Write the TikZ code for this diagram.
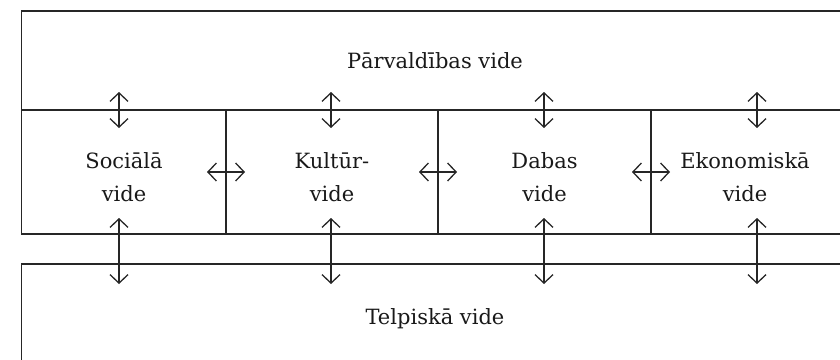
\documentclass[tikz,border=0pt]{standalone}
\usepackage{fontspec}
\setmainfont{DejaVu Serif}
\usetikzlibrary{arrows.meta}
\begin{document}
\begin{tikzpicture}[x=1pt,y=-1pt,
  frame/.style={draw=black!85,line width=1.3pt},
  lbl/.style={align=center,font=\fontsize{21}{33}\selectfont,text=black!90,inner sep=0pt},
  dbl/.style={draw=black!85,line width=1.3pt,{Straight Barb[length=8.5pt,width=18pt]}-{Straight Barb[length=8.5pt,width=18pt]}}]
\useasboundingbox (0,0) rectangle (840,359);
\clip (0,0) rectangle (840,359);
% boxes
\draw[frame] (21.5,11) rectangle (842,110);
\draw[frame] (21.5,110) rectangle (226,234);
\draw[frame] (226,110) rectangle (438,234);
\draw[frame] (438,110) rectangle (651,234);
\draw[frame] (651,110) rectangle (842,234);
\draw[frame] (21.5,264) rectangle (842,362);
% labels
\node[lbl] (pv) at (435,61) {Pārvaldības vide};
\node[lbl] (soc) at (124,177) {Sociālā\\vide};
\node[lbl] (kul) at (332,177) {Kultūr-\\vide};
\node[lbl] (dab) at (544.5,177) {Dabas\\vide};
\node[lbl] (eko) at (745,177) {Ekonomiskā\\vide};
\node[lbl] (tel) at (435,319) {Telpiskā vide};
% arrow end points
\foreach \n/\x in {a/119,b/331,c/544,d/757}{
  \coordinate (\n1) at (\x,92);
  \coordinate (\n2) at (\x,128);
  \coordinate (\n3) at (\x,218);
  \coordinate (\n4) at (\x,284);
  \draw[dbl] (\n1) -- (\n2);
  \draw[dbl] (\n3) -- (\n4);
}
\foreach \n/\x in {e/226,f/438,g/651}{
  \coordinate (\n1) at (\x-19,172);
  \coordinate (\n2) at (\x+19,172);
  \draw[dbl] (\n1) -- (\n2);
}
\end{tikzpicture}
\end{document}
